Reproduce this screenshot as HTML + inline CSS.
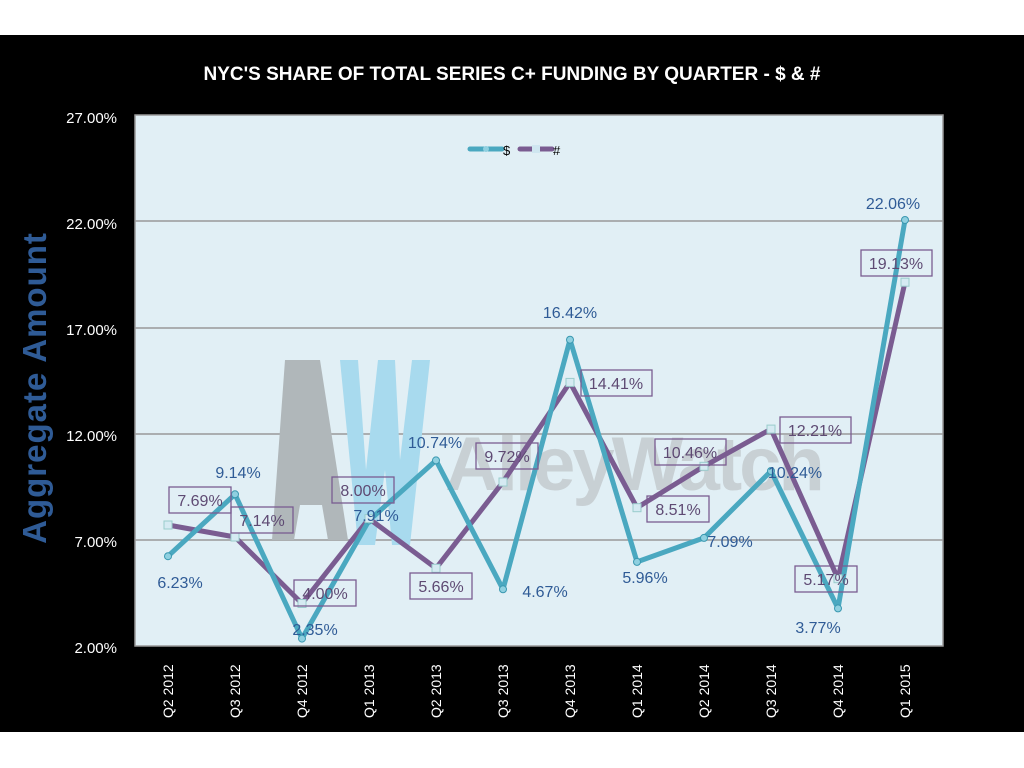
<!DOCTYPE html>
<html><head><style>
body{margin:0;background:#fff;width:1024px;height:768px;overflow:hidden}
svg{display:block}
text{font-family:"Liberation Sans",sans-serif}
</style></head><body>
<svg width="1024" height="768" viewBox="0 0 1024 768">
<rect x="0" y="35" width="1024" height="697" fill="#000"/>
<text x="512" y="80" fill="#fff" font-size="19" font-weight="bold" text-anchor="middle">NYC'S SHARE OF TOTAL SERIES C+ FUNDING BY QUARTER - $ &amp; #</text>
<rect x="135" y="115" width="808" height="531" fill="#e1eff5" stroke="#999" stroke-width="1.5"/>
<g stroke="#999" stroke-width="1.5">
<line x1="135" y1="221" x2="943" y2="221"/><line x1="135" y1="328" x2="943" y2="328"/>
<line x1="135" y1="434" x2="943" y2="434"/><line x1="135" y1="540" x2="943" y2="540"/>
</g>
<g fill="#fff" font-size="15" text-anchor="end">
<text x="117" y="123">27.00%</text><text x="117" y="229">22.00%</text><text x="117" y="335">17.00%</text>
<text x="117" y="441">12.00%</text><text x="117" y="547">7.00%</text><text x="117" y="653">2.00%</text>
</g>
<text transform="translate(46,388) rotate(-90)" fill="#2f5b96" font-size="33" font-weight="bold" text-anchor="middle" letter-spacing="1">Aggregate  Amount</text>
<g fill="#fff" font-size="14">
<text transform="translate(173,718) rotate(-90)">Q2 2012</text>
<text transform="translate(240,718) rotate(-90)">Q3 2012</text>
<text transform="translate(307,718) rotate(-90)">Q4 2012</text>
<text transform="translate(374,718) rotate(-90)">Q1 2013</text>
<text transform="translate(441,718) rotate(-90)">Q2 2013</text>
<text transform="translate(508,718) rotate(-90)">Q3 2013</text>
<text transform="translate(575,718) rotate(-90)">Q4 2013</text>
<text transform="translate(642,718) rotate(-90)">Q1 2014</text>
<text transform="translate(709,718) rotate(-90)">Q2 2014</text>
<text transform="translate(776,718) rotate(-90)">Q3 2014</text>
<text transform="translate(843,718) rotate(-90)">Q4 2014</text>
<text transform="translate(910,718) rotate(-90)">Q1 2015</text>
</g>
<!-- watermark -->
<polygon points="285,360 320,360 348,540 328,540 322,505 300,505 294,540 272,540" fill="#b0b7ba"/>
<polygon points="340,360 358,360 366,470 378,360 395,360 400,460 412,360 430,360 410,545 392,545 385,470 375,545 358,545" fill="#a8daee"/>
<text x="445" y="490" fill="#c8d0d4" font-size="76" font-weight="bold" letter-spacing="-3">AlleyWatch</text>
<!-- legend -->
<line x1="470" y1="149" x2="502" y2="149" stroke="#4aa8c0" stroke-width="5" stroke-linecap="round"/>
<circle cx="486" cy="149" r="3" fill="#8fd0e0"/>
<text x="503" y="155" font-size="13" fill="#000">$</text>
<line x1="520" y1="149" x2="552" y2="149" stroke="#7a5c91" stroke-width="5" stroke-linecap="round"/>
<rect x="532" y="145" width="8" height="8" fill="#cfe6f0"/>
<text x="553" y="155" font-size="13" fill="#000">#</text>
<!-- series -->
<polyline fill="none" stroke="#7a5c91" stroke-width="5" stroke-linejoin="round" points="168,525 235,537 302,603.5 369,518.6 436,568.3 503,482 570,382.4 637,507.7 704,466.3 771,429.1 838,578.7 905,282.2"/>
<polyline fill="none" stroke="#4aa8c0" stroke-width="5" stroke-linejoin="round" points="168,556.2 235,494.3 302,638.6 369,520.5 436,460.4 503,589.3 570,339.7 637,561.9 704,537.9 771,471 838,608.4 905,220"/>
<g fill="#8fd0e0" stroke="#3a98b0" stroke-width="1">
<circle cx="168" cy="556.2" r="3.5"/><circle cx="235" cy="494.3" r="3.5"/><circle cx="302" cy="638.6" r="3.5"/><circle cx="369" cy="520.5" r="3.5"/><circle cx="436" cy="460.4" r="3.5"/><circle cx="503" cy="589.3" r="3.5"/><circle cx="570" cy="339.7" r="3.5"/><circle cx="637" cy="561.9" r="3.5"/><circle cx="704" cy="537.9" r="3.5"/><circle cx="771" cy="471" r="3.5"/><circle cx="838" cy="608.4" r="3.5"/><circle cx="905" cy="220" r="3.5"/>
</g>
<g fill="#d5eaf2" stroke="#9cc" stroke-width="1">
<rect x="164" y="521" width="8" height="8"/><rect x="231" y="533" width="8" height="8"/><rect x="298" y="599.5" width="8" height="8"/><rect x="365" y="514.6" width="8" height="8"/><rect x="432" y="564.3" width="8" height="8"/><rect x="499" y="478" width="8" height="8"/><rect x="566" y="378.4" width="8" height="8"/><rect x="633" y="503.7" width="8" height="8"/><rect x="700" y="462.3" width="8" height="8"/><rect x="767" y="425.1" width="8" height="8"/><rect x="834" y="574.7" width="8" height="8"/><rect x="901" y="278.2" width="8" height="8"/>
</g>
<!-- $ labels -->
<g fill="#2f5b96" font-size="16" text-anchor="middle">
<text x="180" y="588">6.23%</text><text x="238" y="478">9.14%</text><text x="315" y="635">2.35%</text><text x="376" y="521">7.91%</text><text x="435" y="448">10.74%</text><text x="545" y="597">4.67%</text><text x="570" y="318">16.42%</text><text x="645" y="583">5.96%</text><text x="730" y="547">7.09%</text><text x="795" y="478">10.24%</text><text x="818" y="633">3.77%</text><text x="893" y="209">22.06%</text>
</g>
<!-- # labels -->
<g font-size="16" text-anchor="middle">
<g fill="none" stroke="#7a5c91" stroke-width="1.3">
<rect x="169" y="487" width="62" height="26"/><rect x="231" y="507" width="62" height="26"/><rect x="294" y="580" width="62" height="26"/><rect x="332" y="477" width="62" height="26"/><rect x="410" y="573" width="62" height="26"/><rect x="476" y="443" width="62" height="26"/><rect x="581" y="370" width="71" height="26"/><rect x="647" y="496" width="62" height="26"/><rect x="655" y="439" width="71" height="26"/><rect x="780" y="417" width="71" height="26"/><rect x="795" y="566" width="62" height="26"/><rect x="861" y="250" width="71" height="26"/>
</g>
<g fill="#5e4a73">
<text x="200" y="506">7.69%</text><text x="262" y="526">7.14%</text><text x="325" y="599">4.00%</text><text x="363" y="496">8.00%</text><text x="441" y="592">5.66%</text><text x="507" y="462">9.72%</text><text x="616" y="389">14.41%</text><text x="678" y="515">8.51%</text><text x="690" y="458">10.46%</text><text x="815" y="436">12.21%</text><text x="826" y="585">5.17%</text><text x="896" y="269">19.13%</text>
</g>
</g>
</svg>
</body></html>
